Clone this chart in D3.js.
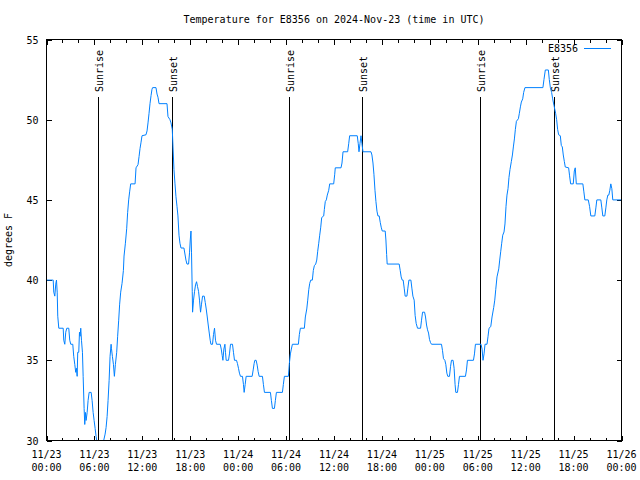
<!DOCTYPE html>
<html><head><meta charset="utf-8">
<script src="https://cdn.jsdelivr.net/npm/d3@7"></script>
<style>
body{margin:0;background:#fff}
svg text{font-family:"DejaVu Sans Mono",monospace;font-size:10px;fill:#000}
</style>
</head><body><svg id="c" width="640" height="480"></svg>
<script>
const title = "Temperature for E8356 on 2024-Nov-23 (time in UTC)";
const seriesName = "E8356";
const yLabel = "degrees F";
// hours since 2024-11-23 00:00 UTC
const hours = [0,0.84,0.91,1.04,1.16,1.25,1.34,1.41,1.54,2.09,2.16,2.29,2.41,2.54,2.79,2.91,3.04,3.29,3.41,3.54,3.66,3.75,3.84,3.91,4.04,4.13,4.21,4.29,4.38,4.5,4.59,4.71,4.79,4.88,4.96,5.09,5.21,5.34,5.59,5.71,5.84,5.96,6.09,6.21,6.29,6.44,6.63,6.88,7.06,7.16,7.34,7.46,7.59,7.71,7.84,7.96,8.09,8.13,8.25,8.38,8.5,8.63,8.79,8.91,9.04,9.16,9.29,9.46,9.63,9.71,9.88,10.04,10.16,10.29,10.41,10.54,11.09,11.21,11.46,11.59,11.71,11.84,11.96,12.46,12.59,12.71,12.84,12.96,13.09,13.21,13.29,13.71,13.84,13.96,14.09,15.09,15.21,15.46,15.59,15.75,15.84,15.96,16.09,16.21,16.34,16.46,16.59,16.71,16.84,17.21,17.46,17.59,17.79,17.91,18.0,18.09,18.16,18.25,18.29,18.41,18.54,18.66,18.79,18.91,19.04,19.16,19.29,19.41,19.54,19.75,19.88,20.0,20.13,20.25,20.38,20.5,20.59,20.79,20.91,21.04,21.16,21.29,21.75,21.88,22.0,22.09,22.21,22.34,22.41,22.5,22.79,22.91,23.04,23.29,23.41,23.54,23.79,23.91,24.04,24.16,24.29,24.54,24.66,24.75,24.88,25.0,25.75,25.88,26.0,26.09,26.25,26.38,26.5,26.63,27.04,27.16,27.29,28.04,28.16,28.29,28.54,28.66,28.79,29.54,29.66,29.79,30.29,30.41,30.54,30.66,30.79,31.54,31.66,31.79,32.29,32.41,32.59,32.71,32.84,32.96,33.09,33.29,33.41,33.54,33.71,33.84,33.96,34.09,34.21,34.34,34.46,34.71,34.79,34.91,35.04,35.16,35.34,35.46,35.96,36.09,36.16,36.88,37.0,37.13,37.71,37.84,37.96,38.91,39.04,39.13,39.25,39.38,39.5,39.63,40.63,40.75,40.88,41.0,41.13,41.25,41.38,41.5,41.66,41.79,41.91,42.04,42.41,42.5,42.59,42.66,44.16,44.29,44.41,44.54,44.66,44.79,44.91,45.13,45.25,45.38,45.63,45.75,45.88,46.04,46.16,46.29,46.46,46.84,46.96,47.09,47.34,47.46,47.59,47.71,47.84,47.96,48.09,48.21,49.46,49.59,49.71,49.88,50.0,50.13,50.25,50.46,50.59,50.71,50.91,51.04,51.16,51.25,51.46,51.59,51.71,52.46,52.59,52.71,53.46,53.59,53.71,54.41,54.54,54.66,54.79,54.91,55.16,55.29,55.41,55.63,55.79,56.0,56.13,56.25,56.41,56.63,56.75,56.88,57.0,57.13,57.29,57.41,57.54,57.66,57.79,57.91,58.04,58.21,58.34,58.46,58.59,58.71,58.84,59.09,59.21,59.34,59.46,59.63,59.75,59.91,62.16,62.29,62.46,62.84,62.96,63.09,63.25,63.38,63.54,63.75,63.88,64.0,64.13,64.34,64.46,64.59,64.71,64.84,64.96,65.38,65.5,65.63,65.96,66.09,66.21,66.34,67.16,67.29,67.41,67.84,68.0,68.16,68.66,68.79,68.91,69.41,69.54,69.66,69.91,70.04,70.16,70.29,70.41,70.54,70.66,70.79,70.91,72];
const tempF = [40,40,39.25,39,39.75,40,39.25,37.75,37,37,36.25,36,36.75,37,37,36.25,36,36,35.25,34.75,34.25,34.5,34,35.5,35.5,36.75,36.5,37,36.25,35.5,34,32,31,31.75,31.25,31.75,32.5,33,33,32.5,31.75,31.25,30.75,30.25,30,29.5,29.2,29.2,29.6,30,30.4,30.8,31.5,32.5,33.75,35.25,36,35.75,35.25,34.75,34,34.75,35.5,36.5,37.5,38.5,39.25,39.8,40.6,41.5,42.3,43.2,44.2,45,45.5,46,46,47,47.2,47.7,48.2,48.6,49,49.06,49.3,49.8,50.4,51,51.5,51.9,52,52,51.6,51.4,51,51,50.2,50,49.8,49.4,48.3,46.9,46,45.2,44.6,44,42.8,42.3,42,42,41.25,41,41,41.7,42.5,43.06,41.7,39.3,38,38.75,39.3,39.7,39.9,39.6,39.3,38.75,38,38.5,39,39,38.6,38.2,37.7,37.2,36.7,36.25,36,36,36.6,37,36.25,36,36,35.7,35.3,35,35.7,36,35.5,35,35,35.4,36,36,35.5,35,35,34.8,34.5,34.2,34,34,33.5,33,33.5,34,34,34.4,34.8,35,35,34.7,34.3,34,34,33.5,33,33,32.5,32,32,32.5,33,33,33.5,34,34,34.8,35.4,35.7,36,36,36.6,37,37,37.7,38.2,38.75,39.4,39.8,40,40,40.6,40.9,41,41.25,41.8,42.3,42.8,43.3,43.9,44,44.4,44.9,45,45.3,45.6,46,46,46.6,47,47,47.3,48,48,48.5,49,49,48.5,48,48.5,49,48.5,48,48,47.8,47.3,46.6,45.6,44.9,44.3,44,44,43.6,43.3,43.06,43.06,42.5,41.6,41,41,40.6,40.2,40,40,39.5,39,39,39.5,40,40,39.5,39,38.75,37.8,37.3,37,37,37.5,38,38,37.7,37.2,36.9,36.7,36.3,36.1,36,36,35.6,35.1,35,34.75,34.2,34,34,34.6,35,35,34.5,33.5,33,33,33.5,34,34,34.4,35,35,35.4,36,36,35.7,35,35.4,36,36,36.5,37,37.1,37.7,38.3,38.75,39.4,40.2,40.7,41.25,41.8,42.3,42.8,43,43.5,44.6,45.3,45.7,46.4,46.9,47.4,47.8,48.3,48.8,49.4,49.9,50.06,50.4,50.8,51.1,51.3,51.7,52,52,52.5,53.1,53.1,52.5,52,51.7,51.3,50.9,50.4,50,49.4,49.06,49,48.4,48.3,47.8,47.4,47.05,47,46.5,46,46,46.8,47,46,46,45.5,45,45,44.6,44,44,44.5,45,45,44.5,44,44,44.5,45,45.3,45.3,45.6,46,45.7,45,45];
const sunHours = [6.42, 15.67, 30.42, 39.5, 54.29, 63.54];
const sunLabels = ["Sunrise","Sunset","Sunrise","Sunset","Sunrise","Sunset"];
const xTickHours = [0,6,12,18,24,30,36,42,48,54,60,66,72];
const xTickDates = ["11/23","11/23","11/23","11/23","11/24","11/24","11/24","11/24","11/25","11/25","11/25","11/25","11/26"];
const xTickTimes = ["00:00","06:00","12:00","18:00","00:00","06:00","12:00","18:00","00:00","06:00","12:00","18:00","00:00"];
const xMinorHours = [2,4,8,10,14,16,20,22,26,28,32,34,38,40,44,46,50,52,56,58,62,64,68,70];
const yTicks = [30,35,40,45,50,55];

const L=46.5, R=621.5, T=39.5, B=440.5;
const svg = d3.select("#c");
svg.append("rect").attr("width",640).attr("height",480).attr("fill","#fff");
const x = d3.scaleLinear().domain([0,72]).range([L,R]);
const y = d3.scaleLinear().domain([30,55]).range([B,T]);

svg.append("defs").append("clipPath").attr("id","clip")
  .append("rect").attr("x",L).attr("y",T).attr("width",R-L).attr("height",B-T);

function styleAxis(g){ g.select(".domain").remove(); g.selectAll("line").attr("stroke","#000").attr("shape-rendering","crispEdges"); g.attr("font-family",null).attr("font-size",null); }

svg.append("g").attr("transform",`translate(0,${B})`).call(d3.axisBottom(x).tickValues(xTickHours).tickSize(-5).tickSizeOuter(0).tickFormat("")).call(styleAxis);
svg.append("g").attr("transform",`translate(0,${B})`).call(d3.axisBottom(x).tickValues(xMinorHours).tickSize(-3).tickSizeOuter(0).tickFormat("")).call(styleAxis);
svg.append("g").attr("transform",`translate(0,${T})`).call(d3.axisTop(x).tickValues(xTickHours).tickSize(-5).tickSizeOuter(0).tickFormat("")).call(styleAxis);
svg.append("g").attr("transform",`translate(0,${T})`).call(d3.axisTop(x).tickValues(xMinorHours).tickSize(-3).tickSizeOuter(0).tickFormat("")).call(styleAxis);
const gl = svg.append("g").attr("transform",`translate(${L},0)`).call(d3.axisLeft(y).tickValues(yTicks).tickSize(-5).tickSizeOuter(0).tickPadding(8)).call(styleAxis);
gl.selectAll("text").attr("dy","0.35em");
svg.append("g").attr("transform",`translate(${R},0)`).call(d3.axisRight(y).tickValues(yTicks).tickSize(-5).tickSizeOuter(0).tickFormat("")).call(styleAxis);

const xl = svg.append("g");
xTickHours.forEach((h,i)=>{
  const t = xl.append("text").attr("text-anchor","middle");
  t.append("tspan").attr("x",x(h)).attr("y",458).text(xTickDates[i]);
  t.append("tspan").attr("x",x(h)).attr("y",471).text(xTickTimes[i]);
});

sunHours.forEach((h,i)=>{
  const xs = Math.round(x(h))+0.5;
  svg.append("line").attr("x1",xs).attr("x2",xs).attr("y1",97).attr("y2",B)
    .attr("stroke","#000").attr("stroke-width",1).attr("shape-rendering","crispEdges");
  svg.append("text").attr("transform",`translate(${xs+4},92) rotate(-90)`).attr("text-anchor","start").text(sunLabels[i]);
});

const pts = hours.map((h,i)=>[h,tempF[i]]);
svg.append("path").datum(pts).attr("clip-path","url(#clip)")
  .attr("fill","none").attr("stroke","#0080ff").attr("stroke-width",1)
  .attr("d", d3.line().x(d=>x(d[0])).y(d=>y(d[1])));

svg.append("rect").attr("x",L).attr("y",T).attr("width",R-L).attr("height",B-T)
  .attr("fill","none").attr("stroke","#000").attr("shape-rendering","crispEdges");

svg.append("text").attr("x",(L+R)/2).attr("y",23).attr("text-anchor","middle").text(title);
svg.append("text").attr("transform","translate(12,240) rotate(-90)").attr("text-anchor","middle").text(yLabel);
svg.append("text").attr("x",578).attr("y",52).attr("text-anchor","end").text(seriesName);
svg.append("line").attr("x1",584).attr("x2",611).attr("y1",48.5).attr("y2",48.5).attr("stroke","#0080ff").attr("stroke-width",1);
</script></body></html>
